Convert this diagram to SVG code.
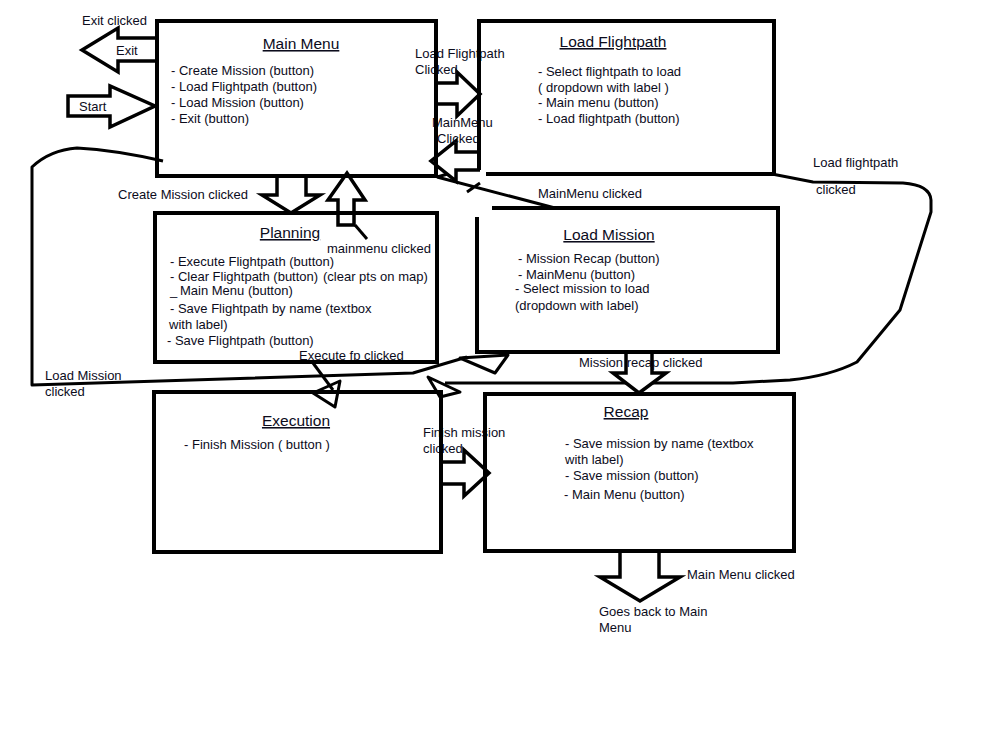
<svg xmlns="http://www.w3.org/2000/svg" width="1000" height="744" viewBox="0 0 1000 744">
<style>
.box{fill:none;stroke:#000;stroke-width:4}
.ar{fill:#fff;stroke:#000;stroke-width:3.5;stroke-linejoin:miter}
.ln{fill:none;stroke:#000;stroke-width:3;stroke-linejoin:round}
.t{font-family:"Liberation Sans",Arial,sans-serif;font-size:13px;fill:#0c0c1c}
.h{font-size:15.5px;text-decoration:underline}
.m{text-anchor:middle}
</style>
<rect width="1000" height="744" fill="#fff"/>
<g id="connectors">
  <!-- Load Mission clicked curve -->
  <path class="ln" d="M163,161 Q115,150 77,148 Q50,150 32,167 L32,385 L413,373 L467,357"/>
  <polygon class="ln" points="460,358 508,355 495,373"/>
  <!-- Load flightpath clicked curve -->
  <path class="ln" d="M772,174 L813,182 L903,183 Q930,185 931,200 L931,212 L900,310 L857,362 Q830,376 790,380 L733,383 L445,383"/>
  <polygon class="ln" points="428,377 460,392 440,397"/>
  <!-- MainMenu clicked from Load Mission -->
  <path class="ln" d="M555,208 L437,177 M437,177 L455,172 M467,192 L480,183"/>
  <!-- Exit -->
  <polyline class="ar" points="157,38 118,38 118,28 82,50 118,72 118,61 157,61"/>
  <!-- Start -->
  <polygon class="ar" points="68,96 110,96 110,86 155,106 110,127 110,116 68,116"/>
  <!-- Load Flightpath clicked -->
  <polyline class="ar" points="436,83 457,83 457,72 480,94 457,116 457,104 436,104"/>
  <!-- MainMenu Clicked (to main menu) -->
  <polyline class="ar" points="480,152 456,152 456,141 431,161 456,181 456,170 480,170"/>
  <!-- Create Mission clicked -->
  <polyline class="ar" points="277,176 277,195 262,195 291,213 320,195 306,195 306,176"/>
  <!-- mainmenu clicked (up) -->
  <polygon class="ar" points="338,225 338,200 328,200 347,173 365,200 354,200 354,225"/>
  <line class="ln" x1="355" y1="225" x2="367" y2="239"/>
  <!-- Execute fp clicked -->
  <line class="ln" x1="313" y1="363" x2="333" y2="390"/>
  <polygon class="ln" points="313,393 340,381 335,407"/>
  <!-- Mission recap clicked -->
  <polyline class="ar" points="626,352 626,373 613,373 639,393 666,373 652,373 652,352"/>
  <!-- Finish mission clicked -->
  <polyline class="ar" points="442,462 464,462 464,450 489,473 464,496 464,484 442,484"/>
  <!-- Main Menu clicked (from recap) -->
  <polyline class="ar" points="620,551 620,577 600,577 640,601 680,577 659,577 659,551"/>
</g>
<g id="labels">
  <text class="t" x="82" y="25">Exit clicked</text>
  <text class="t" x="116" y="55">Exit</text>
  <text class="t" x="79" y="111">Start</text>
  <text class="t" x="415" y="58">Load Flightpath</text>
  <text class="t" x="415" y="74">Clicked</text>
  <text class="t" x="432" y="127">MainMenu</text>
  <text class="t" x="437" y="143">Clicked</text>
  <text class="t" x="813" y="167">Load flightpath</text>
  <text class="t" x="816" y="194">clicked</text>
  <text class="t" x="538" y="198">MainMenu clicked</text>
  <text class="t" x="118" y="199">Create Mission clicked</text>
  <text class="t" x="327" y="253">mainmenu clicked</text>
  <text class="t" x="299" y="360">Execute fp clicked</text>
  <text class="t" x="45" y="380">Load Mission</text>
  <text class="t" x="45" y="396">clicked</text>
  <text class="t" x="579" y="367">Mission recap clicked</text>
  <text class="t" x="423" y="437">Finish mission</text>
  <text class="t" x="423" y="453">clicked</text>
  <text class="t" x="687" y="579">Main Menu clicked</text>
  <text class="t" x="599" y="616">Goes back to Main</text>
  <text class="t" x="599" y="632">Menu</text>
</g>
<g id="main-menu">
  <rect class="box" x="157" y="21" width="279" height="155"/>
  <text class="t h m" x="301" y="49">Main Menu</text>
  <text class="t" x="171" y="75">- Create Mission (button)</text>
  <text class="t" x="171" y="91">- Load Flightpath (button)</text>
  <text class="t" x="171" y="107">- Load Mission (button)</text>
  <text class="t" x="171" y="123">- Exit (button)</text>
</g>
<g id="load-flightpath">
  <path class="box" d="M479,170 L479,21 L774,21 L774,174 L486,174"/>
  <text class="t h m" x="613" y="47">Load Flightpath</text>
  <text class="t" x="538" y="76">- Select flightpath to load</text>
  <text class="t" x="538" y="92">( dropdown with label )</text>
  <text class="t" x="538" y="107">- Main menu (button)</text>
  <text class="t" x="538" y="123">- Load flightpath (button)</text>
</g>
<g id="planning">
  <rect class="box" x="155" y="213" width="282" height="149"/>
  <text class="t h m" x="290" y="238">Planning</text>
  <text class="t" x="170" y="266">- Execute Flightpath (button)</text>
  <text class="t" x="170" y="281">- Clear Flightpath (button)</text>
  <text class="t" x="323" y="281">(clear pts on map)</text>
  <text class="t" x="170" y="295">_</text>
  <text class="t" x="180" y="295">Main Menu (button)</text>
  <text class="t" x="170" y="313">- Save Flightpath by name (textbox</text>
  <text class="t" x="169" y="329">with label)</text>
  <text class="t" x="167" y="345">- Save Flightpath (button)</text>
</g>
<g id="load-mission">
  <path class="box" d="M492,208 L778,208 L778,352 L477,352 L477,217"/>
  <text class="t h m" x="609" y="240">Load Mission</text>
  <text class="t" x="518" y="263">- Mission Recap (button)</text>
  <text class="t" x="518" y="279">- MainMenu (button)</text>
  <text class="t" x="515" y="293">- Select mission to load</text>
  <text class="t" x="515" y="310">(dropdown with label)</text>
</g>
<g id="execution">
  <rect class="box" x="154" y="392" width="287" height="160"/>
  <text class="t h m" x="296" y="426">Execution</text>
  <text class="t" x="184" y="449">- Finish Mission ( button )</text>
</g>
<g id="recap">
  <rect class="box" x="485" y="394" width="309" height="157"/>
  <text class="t h m" x="626" y="417">Recap</text>
  <text class="t" x="565" y="448">- Save mission by name (textbox</text>
  <text class="t" x="565" y="464">with label)</text>
  <text class="t" x="565" y="480">- Save mission (button)</text>
  <text class="t" x="564" y="499">- Main Menu (button)</text>
</g>
</svg>
